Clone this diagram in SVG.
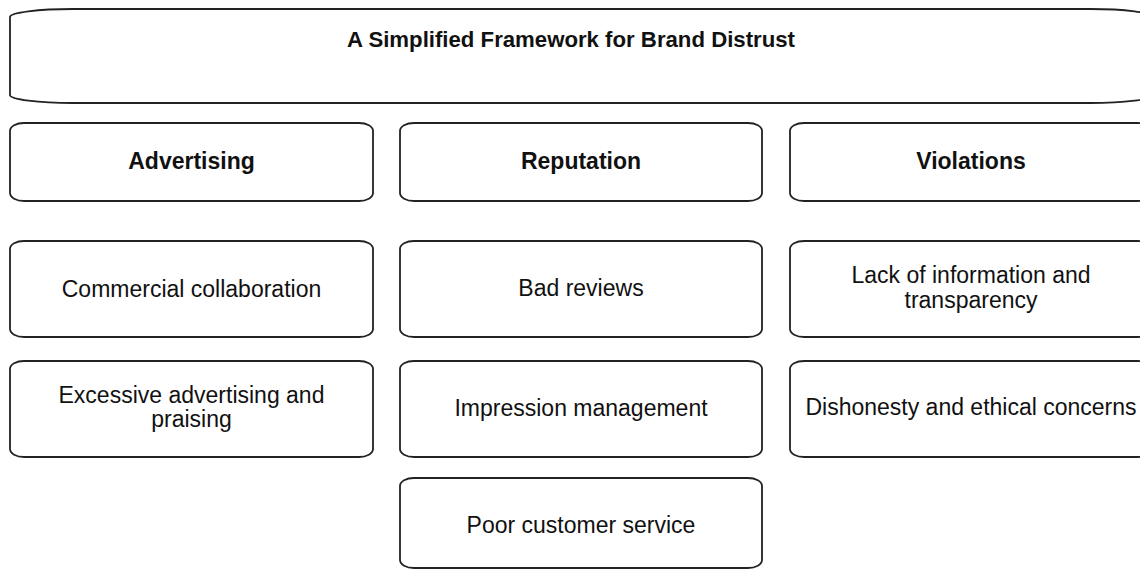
<svg xmlns="http://www.w3.org/2000/svg" width="1140" height="570" viewBox="0 0 1140 570">
<style>
.box{fill:#fff;stroke:#222;stroke-width:1.8}
text{font-family:"Liberation Sans",Arial,sans-serif;font-size:23px;fill:#111;text-anchor:middle}
.b{font-weight:bold}
.t{font-size:22.2px}
</style>
<rect width="1140" height="570" fill="#fff"/>
<g id="title">
<path class="box" d="M73,9 H1090 A63,8 0 0 1 1153,17 V95 A63,8 0 0 1 1090,103 H73 A63,8 0 0 1 10,95 V17 A63,8 0 0 1 73,9 Z"/>
<text class="b t" x="571" y="47">A Simplified Framework for Brand Distrust</text>
</g>
<g id="advertising">
<rect class="box" x="10" y="123" width="363" height="78" rx="14" ry="8"/>
<text class="b" x="191.5" y="169">Advertising</text>
</g>
<g id="reputation">
<rect class="box" x="400" y="123" width="362" height="78" rx="14" ry="8"/>
<text class="b" x="581" y="169">Reputation</text>
</g>
<g id="violations">
<rect class="box" x="790" y="123" width="362" height="78" rx="14" ry="8"/>
<text class="b" x="971" y="169">Violations</text>
</g>
<g id="commercial">
<rect class="box" x="10" y="241" width="363" height="96" rx="14" ry="8"/>
<text x="191.5" y="297">Commercial collaboration</text>
</g>
<g id="badreviews">
<rect class="box" x="400" y="241" width="362" height="96" rx="14" ry="8"/>
<text x="581" y="296">Bad reviews</text>
</g>
<g id="lackinfo">
<rect class="box" x="790" y="241" width="362" height="96" rx="14" ry="8"/>
<text x="971" y="283">Lack of information and</text>
<text x="971" y="308">transparency</text>
</g>
<g id="excessive">
<rect class="box" x="10" y="361" width="363" height="96" rx="14" ry="8"/>
<text x="191.5" y="403">Excessive advertising and</text>
<text x="191.5" y="427">praising</text>
</g>
<g id="impression">
<rect class="box" x="400" y="361" width="362" height="96" rx="14" ry="8"/>
<text x="581" y="416">Impression management</text>
</g>
<g id="dishonesty">
<rect class="box" x="790" y="361" width="362" height="96" rx="14" ry="8"/>
<text x="971" y="415">Dishonesty and ethical concerns</text>
</g>
<g id="poorservice">
<rect class="box" x="400" y="478" width="362" height="90" rx="14" ry="8"/>
<text x="581" y="533">Poor customer service</text>
</g>
<g id="connectors"></g>
</svg>
